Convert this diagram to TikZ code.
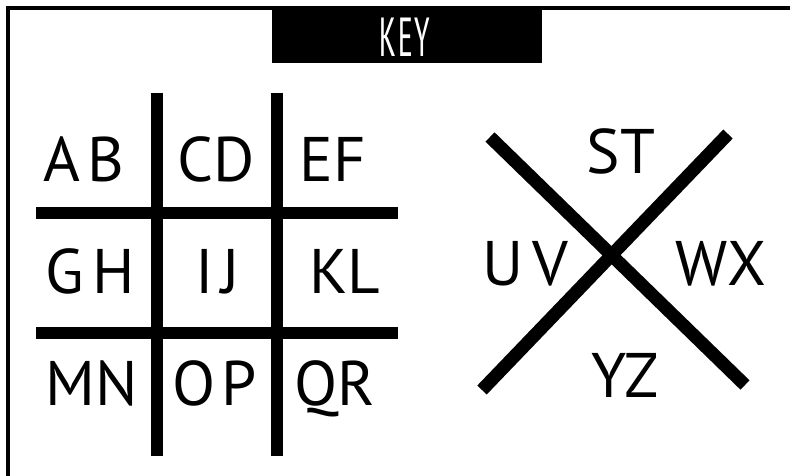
\documentclass[tikz,border=0pt]{standalone}
\usepackage{fontspec}
\setmainfont{PT Sans}
\newfontfamily\keyfont{PT Sans Narrow}
\begin{document}
\begin{tikzpicture}[x=1pt,y=-1pt,
  frameline/.style={line width=4pt},
  gridline/.style={line width=12pt},
  crossline/.style={line width=13pt},
  letters/.style={anchor=base,inner sep=0pt,font=\fontsize{63}{63}\selectfont}]
\useasboundingbox (0,0) rectangle (790,476);
% frame
\coordinate (fbl) at (8,476);
\coordinate (ftl) at (8,8);
\coordinate (ftr) at (790,8);
\draw[frameline] (fbl) -- (ftl) -- (ftr);
% key bar
\fill (272,6) rectangle (542,63);
\node[inner sep=0pt,text=white,anchor=base,font=\keyfont\fontsize{55}{55}\selectfont] (key) at (405,57) {\scalebox{0.62}[1]{K\kern3pt E\kern3pt Y}};
% grid
\coordinate (v1t) at (157,93); \coordinate (v1b) at (157,456);
\coordinate (v2t) at (277,93); \coordinate (v2b) at (277,456);
\coordinate (h1l) at (36,213); \coordinate (h1r) at (398,213);
\coordinate (h2l) at (36,333); \coordinate (h2r) at (398,333);
\draw[gridline] (v1t) -- (v1b);
\draw[gridline] (v2t) -- (v2b);
\draw[gridline] (h1l) -- (h1r);
\draw[gridline] (h2l) -- (h2r);
% grid letters
\node[letters] (ab) at (84,182) {A\kern7pt B};
\node[letters] (cd) at (216,182) {CD};
\node[letters] (ef) at (333,182) {EF};
\node[letters] (gh) at (90,293) {G\kern9pt H};
\node[letters] (ij) at (218,293) {I\kern8pt J};
\node[letters] (kl) at (345,293) {KL};
\node[letters] (mn) at (92,405) {MN};
\node[letters] (op) at (215,405) {O\kern6pt P};
\node[letters] (qr) at (335,405) {QR};
% cross
\coordinate (c1a) at (490,137); \coordinate (c1b) at (745,385);
\coordinate (c2a) at (728,134); \coordinate (c2b) at (482,390);
\draw[crossline] (c1a) -- (c1b);
\draw[crossline] (c2a) -- (c2b);
\node[letters] (st) at (621,173) {ST};
\node[letters] (uv) at (525,285) {U\kern9pt V};
\node[letters] (wx) at (721,285) {WX};
\node[letters] (yz) at (625,397) {YZ};
\end{tikzpicture}
\end{document}
